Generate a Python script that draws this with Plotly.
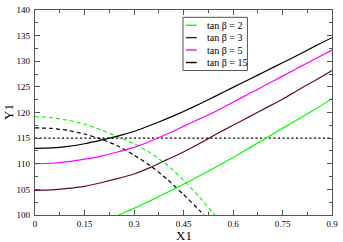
import plotly.graph_objects as go

x_grid = [0.0, 0.05, 0.1, 0.15, 0.2, 0.25, 0.3, 0.35, 0.4, 0.45, 0.5, 0.55, 0.6, 0.65, 0.7, 0.75, 0.8, 0.85, 0.9]

y_tb15 = [113.0, 113.1, 113.4, 113.9, 114.6, 115.4, 116.3, 117.5, 118.8, 120.2, 121.7, 123.3, 124.9, 126.5, 128.1, 129.7, 131.3, 133.0, 134.6]
y_tb5 = [110.0, 110.1, 110.4, 110.9, 111.5, 112.3, 113.2, 114.4, 115.8, 117.3, 118.8, 120.3, 122.0, 123.7, 125.4, 127.1, 128.8, 130.5, 132.2]
y_tb3 = [104.8, 104.9, 105.2, 105.6, 106.3, 107.1, 108.0, 109.3, 110.8, 112.3, 114.0, 115.8, 117.5, 119.2, 120.9, 122.6, 124.5, 126.3, 128.2]

x_tb2 = [0.2, 0.25, 0.3, 0.35, 0.4, 0.45, 0.5, 0.55, 0.6, 0.65, 0.7, 0.75, 0.8, 0.85, 0.9]
y_tb2 = [98.6, 99.9, 101.3, 102.8, 104.4, 106.0, 107.7, 109.4, 111.2, 113.1, 115.0, 116.9, 118.8, 120.7, 122.7]

x_dash = [0.0, 0.05, 0.1, 0.15, 0.2, 0.25, 0.3, 0.35, 0.4, 0.45, 0.5, 0.55]
y_dash_green = [119.2, 119.0, 118.5, 117.7, 116.6, 115.3, 113.9, 112.1, 109.8, 106.8, 103.4, 99.6]
y_dash_black = [117.0, 116.9, 116.5, 115.8, 114.8, 113.5, 111.7, 109.6, 107.0, 104.0, 100.8, 97.2]

x_ref = [0.0, 0.9]
y_ref = [115.0, 115.0]

legend_labels = ["tan β = 2", "tan β = 3", "tan β = 5", "tan β = 15"]
legend_colors = ["#00ff00", "#640842", "#ff00ff", "#000000"]

x_ticks = [0, 0.15, 0.3, 0.45, 0.6, 0.75, 0.9]
x_ticktext = ["0", "0.15", "0.3", "0.45", "0.6", "0.75", "0.9"]
y_ticks = [100, 105, 110, 115, 120, 125, 130, 135, 140]

GREEN, MAROON, MAGENTA, BLACK = legend_colors
SERIF = "Liberation Serif, Times New Roman, serif"

fig = go.Figure()

def add(x, y, color, dash="solid", width=1.2):
    fig.add_trace(go.Scatter(x=x, y=y, mode="lines", line=dict(color=color, width=width, dash=dash, shape="spline", smoothing=0.6), showlegend=False, hoverinfo="skip"))

add(x_ref, y_ref, BLACK, dash="2px,2.5px", width=1.4)
add(x_dash, y_dash_green, GREEN, dash="4px,3px")
add(x_dash, y_dash_black, BLACK, dash="4px,3px")
add(x_tb2, y_tb2, GREEN)
add(x_grid, y_tb3, MAROON)
add(x_grid, y_tb5, MAGENTA)
add(x_grid, y_tb15, BLACK)

axis_common = dict(
    showgrid=False, zeroline=False, showline=True, linecolor="#555555", linewidth=1.3,
    mirror="ticks", ticks="inside", ticklen=5, tickwidth=1, tickcolor="#555555",
    tickfont=dict(family=SERIF, size=9, color="#000000"), ticklabeloverflow="allow",
)

fig.update_xaxes(range=[0, 0.9], tickvals=x_ticks, ticktext=x_ticktext, ticklabelstandoff=0,
                 minor=dict(ticks="inside", dtick=0.075, ticklen=3, tickcolor="#555555"), **axis_common)
fig.update_yaxes(range=[100, 140], tickvals=y_ticks, ticklabelstandoff=2,
                 minor=dict(ticks="inside", dtick=2.5, ticklen=3, tickcolor="#555555"), **axis_common)

L, R, T, B = 35, 6, 5, 27
W, H = 343, 242
pw, ph = W - L - R, H - T - B

def px_x(px):
    return (px - L) / pw

def px_y(py):
    return (H - B - py) / ph

shapes = [dict(type="rect", xref="paper", yref="paper", x0=px_x(185.5), x1=px_x(251), y0=px_y(67), y1=px_y(12.5),
               line=dict(color="#555555", width=1), fillcolor="white", layer="above")]
annotations = []
rows = [20.7, 33.3, 46.0, 58.8]
for lab, col, ry in zip(legend_labels, legend_colors, rows):
    shapes.append(dict(type="line", xref="paper", yref="paper", x0=px_x(188.5), x1=px_x(199.5), y0=px_y(ry), y1=px_y(ry),
                       line=dict(color=col, width=1.4), layer="above"))
    annotations.append(dict(xref="paper", yref="paper", x=px_x(207.5), y=px_y(ry), text=lab, showarrow=False,
                            xanchor="left", yanchor="middle", font=dict(family=SERIF, size=10, color="#000000")))

annotations.append(dict(xref="paper", yref="paper", x=0.5, y=px_y(236.5), text="X1", showarrow=False,
                        xanchor="center", yanchor="middle", font=dict(family=SERIF, size=13, color="#000000")))
annotations.append(dict(xref="paper", yref="paper", x=px_x(8), y=px_y(109), text="Y1", showarrow=False, textangle=-90,
                        xanchor="center", yanchor="middle", font=dict(family=SERIF, size=13, color="#000000")))

fig.update_layout(
    width=W, height=H, autosize=False,
    margin=dict(l=L, r=R, t=T, b=B, pad=0),
    paper_bgcolor="white", plot_bgcolor="white",
    shapes=shapes, annotations=annotations, showlegend=False,
)

fig.write_html("out.html", config={"displayModeBar": False},
               post_script="document.body.style.margin='0';document.body.style.padding='0';document.body.style.overflow='hidden';")
